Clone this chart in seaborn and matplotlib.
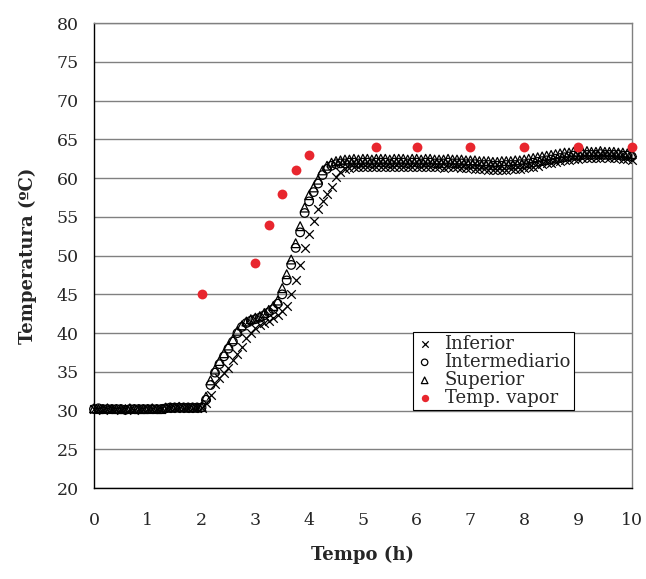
import numpy as np
import matplotlib
matplotlib.use("Agg")
import matplotlib.pyplot as plt
import seaborn as sns

# tempo de amostragem (min), a cada 5 min de 0 a 600
minutos = np.arange(0, 601, 5)

inferior = [
    30.2, 30.2, 30.1, 30.2, 30.2, 30.2, 30.1, 30.2, 30.2, 30.1, 30.2, 30.2,
    30.2, 30.2, 30.2, 30.2, 30.3, 30.4, 30.4, 30.4, 30.4, 30.4, 30.4, 30.4,
    30.4, 31.0, 32.0, 33.4, 34.2, 34.8, 35.5, 36.5, 37.3, 38.2, 39.4, 40.0,
    40.6, 41.0, 41.3, 41.6, 42.0, 42.4, 42.9, 43.5, 45.0, 46.8, 48.8, 51.0,
    52.8, 54.5, 56.0, 57.1, 58.0, 58.9, 60.1, 60.8, 61.2, 61.3, 61.4, 61.4,
    61.4, 61.5, 61.4, 61.5, 61.4, 61.4, 61.5, 61.4, 61.4, 61.5, 61.4, 61.4,
    61.4, 61.4, 61.5, 61.4, 61.4, 61.4, 61.3, 61.4, 61.4, 61.4, 61.3, 61.3,
    61.3, 61.2, 61.2, 61.2, 61.1, 61.1, 61.1, 61.1, 61.1, 61.2, 61.2, 61.2,
    61.3, 61.4, 61.5, 61.6, 61.8, 61.9, 62.0, 62.1, 62.2, 62.3, 62.4, 62.5,
    62.5, 62.6, 62.6, 62.6, 62.6, 62.6, 62.7, 62.6, 62.6, 62.6, 62.5, 62.5,
    62.4,
]

intermediario = [
    30.2, 30.3, 30.2, 30.2, 30.2, 30.2, 30.2, 30.1, 30.2, 30.2, 30.2, 30.2,
    30.2, 30.2, 30.2, 30.2, 30.3, 30.4, 30.4, 30.4, 30.4, 30.4, 30.4, 30.4,
    30.4, 31.4, 33.3, 34.9, 36.0, 37.0, 38.0, 38.9, 40.0, 40.8, 41.3, 41.6,
    41.8, 42.0, 42.3, 42.7, 43.1, 43.8, 45.0, 46.8, 48.8, 51.0, 53.0, 55.5,
    57.0, 58.2, 59.3, 60.4, 61.2, 61.6, 61.8, 61.9, 61.9, 62.0, 62.0, 61.9,
    62.0, 62.0, 61.9, 62.0, 62.0, 62.0, 61.9, 62.0, 62.0, 62.0, 61.9, 62.0,
    62.0, 61.9, 62.0, 62.0, 61.9, 61.9, 61.9, 62.0, 61.9, 61.9, 61.9, 61.8,
    61.8, 61.8, 61.7, 61.7, 61.7, 61.6, 61.6, 61.6, 61.7, 61.7, 61.7, 61.8,
    61.8, 61.9, 62.0, 62.1, 62.2, 62.3, 62.4, 62.5, 62.6, 62.7, 62.8, 62.9,
    62.9, 63.0, 63.0, 63.0, 63.0, 63.1, 63.0, 63.0, 63.0, 63.0, 62.9, 62.9,
    62.8,
]

superior = [
    30.3, 30.2, 30.2, 30.3, 30.2, 30.2, 30.2, 30.2, 30.3, 30.2, 30.2, 30.2,
    30.2, 30.3, 30.2, 30.2, 30.4, 30.4, 30.4, 30.5, 30.4, 30.4, 30.4, 30.4,
    30.5, 31.8, 33.9, 35.3, 36.4, 37.4, 38.4, 39.2, 40.3, 41.0, 41.5, 41.8,
    42.0, 42.2, 42.6, 43.0, 43.5, 44.2, 45.8, 47.6, 49.5, 51.6, 53.8, 56.2,
    57.8, 58.8, 59.8, 61.0, 61.6, 62.0, 62.2, 62.3, 62.4, 62.4, 62.5, 62.4,
    62.5, 62.5, 62.4, 62.5, 62.5, 62.5, 62.4, 62.5, 62.5, 62.5, 62.4, 62.5,
    62.5, 62.4, 62.5, 62.5, 62.4, 62.4, 62.4, 62.5, 62.4, 62.4, 62.4, 62.3,
    62.3, 62.3, 62.2, 62.2, 62.2, 62.1, 62.1, 62.2, 62.2, 62.2, 62.3, 62.3,
    62.4, 62.5, 62.6, 62.7, 62.8, 62.9, 63.0, 63.1, 63.2, 63.3, 63.3, 63.4,
    63.4, 63.4, 63.5, 63.4, 63.4, 63.5, 63.4, 63.4, 63.4, 63.3, 63.3, 63.2,
    63.1,
]

tempo_vapor = [2, 3, 3.25, 3.5, 3.75, 4, 5.25, 6, 7, 8, 9, 10]
temp_vapor = [45, 49, 54, 58, 61, 63, 64, 64, 64, 64, 64, 64]

x_ticks = list(range(0, 11))
y_ticks = list(range(20, 81, 5))

sns.set_style("white")
plt.rcParams['font.family'] = ['DejaVu Serif', 'Liberation Serif']

tempo = minutos / 60.0

fig = plt.figure(figsize=(6.46, 5.79), dpi=100)
ax = fig.add_axes([0.1455, 0.157, 0.8325, 0.803])

sns.scatterplot(x=tempo, y=inferior, marker='x', s=38, color='black',
                edgecolor='black', linewidth=0.9, label='Inferior', ax=ax,
                zorder=3, clip_on=False)
sns.scatterplot(x=tempo, y=intermediario, marker='o', s=38, color='black',
                facecolors='none', edgecolor='black', linewidth=0.9,
                label='Intermediario', ax=ax, zorder=3, clip_on=False)
sns.scatterplot(x=tempo, y=superior, marker='^', s=40, color='black',
                facecolors='none', edgecolor='black', linewidth=0.9,
                label='Superior', ax=ax, zorder=3, clip_on=False)
sns.scatterplot(x=tempo_vapor, y=temp_vapor, marker='o', s=50, color='#e8262e',
                edgecolor='#e8262e', linewidth=0, label='Temp. vapor',
                ax=ax, zorder=4, clip_on=False)

ax.set_xlim(0, 10)
ax.set_ylim(20, 80)
ax.set_xticks(x_ticks)
ax.set_yticks(y_ticks)
ax.tick_params(axis='both', direction='out', length=5, width=1, color='black',
               labelsize=12.5, pad=6)
ax.tick_params(axis='x', pad=12)
ax.yaxis.grid(True, color='#808080', linewidth=1)
ax.xaxis.grid(False)
ax.set_axisbelow(True)

for side in ['left', 'bottom']:
    ax.spines[side].set_color('black')
    ax.spines[side].set_linewidth(1)
for side in ['top', 'right']:
    ax.spines[side].set_color('#808080')
    ax.spines[side].set_linewidth(1)

ax.set_xlabel('Tempo (h)', fontsize=13, fontweight='bold', labelpad=12)
ax.set_ylabel('Temperatura (ºC)', fontsize=13, fontweight='bold', labelpad=14)

leg = ax.legend(loc='upper left', bbox_to_anchor=(0.593, 0.335), fontsize=13,
                frameon=True, fancybox=False, framealpha=1, edgecolor='black',
                borderpad=0.15, labelspacing=0.0, handletextpad=0.6,
                handlelength=1.0, borderaxespad=0, markerscale=0.75)
leg.get_frame().set_linewidth(0.8)

fig.savefig('out.png', dpi=100)
